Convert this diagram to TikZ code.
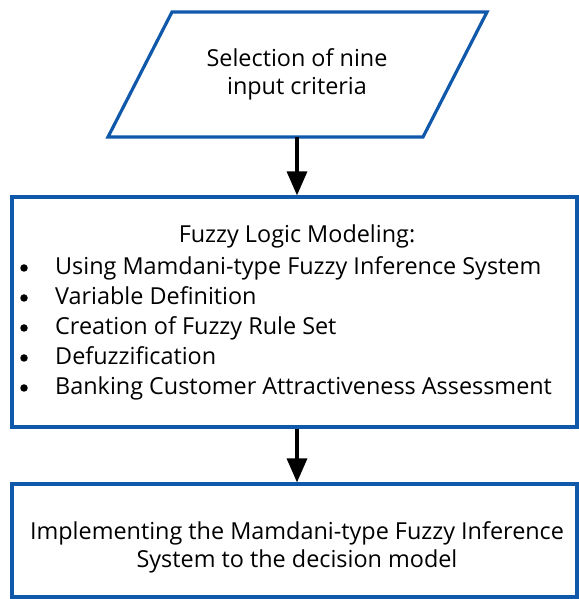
\documentclass[tikz,border=0pt]{standalone}
\usepackage{fontspec}
\setmainfont{Open Sans}
\usetikzlibrary{arrows.meta}
\definecolor{boxblue}{RGB}{16,88,170}
\tikzset{
  x=1pt,y=1pt,
  frame/.style={draw=boxblue,line width=3.2pt},
  box/.style={frame,rectangle,minimum width=565pt,inner sep=0pt},
  txt/.style={inner sep=0pt,font=\fontsize{23.4}{28}\selectfont},
  dot/.style={circle,fill=black,inner sep=0pt,minimum size=7.5pt},
  flow/.style={draw=black,line width=3.4pt,-{Triangle[length=24pt,width=20pt]}},
}
\begin{document}
\begin{tikzpicture}
\useasboundingbox (0,0) rectangle (578,599);
% parallelogram (pixel coords: y' = 599 - y)
\draw[frame,line join=miter] (172,587) -- (487,587) -- (423,462) -- (108,462) -- cycle;
\node[txt,anchor=base] (p1) at (297,532) {Selection of nine};
\node[txt,anchor=base] (p2) at (297,504) {input criteria};
\coordinate (pb) at (297,462);
% box 2
\node[box,minimum height=230pt] (b2) at (294.5,287) {};
\node[txt,anchor=base] (t0) at (297,356) {Fuzzy Logic Modeling:};
\foreach \i/\s in {1/Using Mamdani-type Fuzzy Inference System,2/Variable Definition,3/Creation of Fuzzy Rule Set,4/Defuzzification,5/Banking Customer Attractiveness Assessment}{
  \node[txt,anchor=base west] (l\i) at (55,{324-30*(\i-1)}) {\s};
  \node[dot] (d\i) at (24,{331-30*(\i-1)}) {};
}
% box 3
\node[box,minimum height=113pt] (b3) at (294.5,58.5) {};
\node[txt,anchor=base] (s1) at (297,59) {Implementing the Mamdani-type Fuzzy Inference};
\node[txt,anchor=base] (s2) at (297,31) {System to the decision model};
% arrows
\draw[flow] (pb) -- (pb |- b2.north);
\draw[flow] (b2.south -| pb) -- (b3.north -| pb);
\end{tikzpicture}
\end{document}
